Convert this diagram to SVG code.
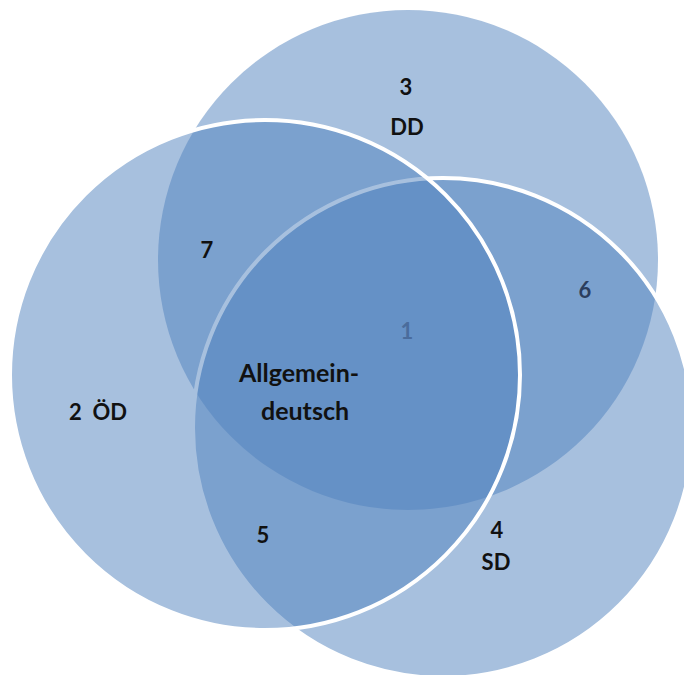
<svg xmlns="http://www.w3.org/2000/svg" width="684" height="675" viewBox="0 0 684 675">
<style>
.c{fill:#4F81BD;fill-opacity:0.5}
.s{stroke:#FFFFFF;stroke-width:4}
text{font-family:Lato,"Open Sans","Liberation Sans",sans-serif;font-weight:bold;fill:#111;text-anchor:middle}
.big{font-size:25px}
.mid{font-size:22px}
</style>
<rect width="684" height="675" fill="#FFFFFF"/>
<g id="DD">
<circle class="c" cx="408" cy="260" r="250"/>
</g>
<g id="SD">
<circle class="c s" cx="443" cy="428" r="250"/>
</g>
<g id="OD">
<circle class="c s" cx="265" cy="375" r="255"/>
</g>
<g id="connectors"></g>
<g id="labels">
<text class="mid" x="406" y="95">3</text>
<text class="mid" x="407" y="135">DD</text>
<text class="mid" x="207" y="258">7</text>
<text class="mid" x="585" y="298" style="fill:#2B3E5E">6</text>
<text class="mid" x="407" y="339" style="fill:#4A6C9C">1</text>
<text class="big" x="299" y="382">Allgemein-</text>
<text class="big" x="305" y="420">deutsch</text>
<text class="mid" x="98" y="420" xml:space="preserve">2  ÖD</text>
<text class="mid" x="263" y="543">5</text>
<text class="mid" x="497" y="538">4</text>
<text class="mid" x="496" y="570">SD</text>
</g>
</svg>
